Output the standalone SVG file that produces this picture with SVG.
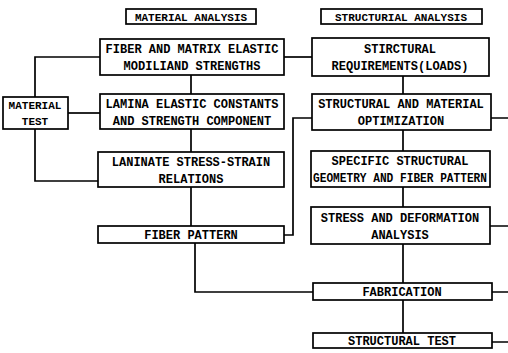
<svg xmlns="http://www.w3.org/2000/svg" width="508" height="353" viewBox="0 0 508 353">
<style>
rect{fill:#fff;stroke:#000;stroke-width:1.7}
text{font-family:"Liberation Mono","DejaVu Sans Mono",monospace;font-weight:bold;font-size:12px;fill:#000;text-anchor:middle}
.h{font-size:11px}
.c path{fill:none;stroke:#000;stroke-width:1.7}
</style>
<rect width="508" height="353" style="stroke:none"/>
<g id="hdr-material"><rect x="126" y="9" width="130" height="15"/><text class="h" x="191" y="20.5">MATERIAL ANALYSIS</text></g>
<g id="hdr-structural"><rect x="321" y="9" width="161" height="15"/><text class="h" x="401" y="20.5">STRUCTURIAL ANALYSIS</text></g>
<g class="c" id="connectors">
<path d="M191 75V94M191 129V152M191 187V226"/>
<path d="M195 243V292H313"/>
<path d="M35 97V57H100"/>
<path d="M68 113H100"/>
<path d="M35 129V181H98"/>
<path d="M284 57H312"/>
<path d="M284 235H293V118H312"/>
<path d="M403 76V94M403 130V151M403 187V207M403 244V283M403 300V333"/>
<path d="M491 118H508M490 226H508M492 292H508M492 342H508"/>
</g>
<g id="n1"><rect x="100" y="39" width="184" height="36"/><text x="192" y="52.5">FIBER AND MATRIX ELASTIC</text><text x="192" y="69.5">MODILIAND STRENGTHS</text></g>
<g id="n2"><rect x="312" y="38" width="177" height="38"/><text x="400" y="52.5">STIRCTURAL</text><text x="400" y="69.5">REQUIREMENTS(LOADS)</text></g>
<g id="mt"><rect x="3" y="97" width="65" height="32"/><text class="h" x="35" y="109">MATERIAL</text><text class="h" x="35" y="125">TEST</text></g>
<g id="n3"><rect x="100" y="94" width="184" height="35"/><text x="192" y="107.5">LAMINA ELASTIC CONSTANTS</text><text x="192" y="124.5">AND STRENGTH COMPONENT</text></g>
<g id="n4"><rect x="312" y="94" width="179" height="36"/><text x="401" y="107.5">STRUCTURAL AND MATERIAL</text><text x="401" y="124.5">OPTIMIZATION</text></g>
<g id="n5"><rect x="98" y="152" width="186" height="35"/><text x="191" y="165.5">LANINATE STRESS-STRAIN</text><text x="191" y="182.5">RELATIONS</text></g>
<g id="n6"><rect x="311" y="151" width="179" height="36"/><text x="400" y="164.5">SPECIFIC STRUCTURAL</text><text x="400" y="181.5" textLength="174" lengthAdjust="spacingAndGlyphs">GEOMETRY AND FIBER PATTERN</text></g>
<g id="n7"><rect x="98" y="226" width="186" height="17"/><text x="191" y="238.5">FIBER PATTERN</text></g>
<g id="n8"><rect x="311" y="207" width="179" height="37"/><text x="400" y="221.5">STRESS AND DEFORMATION</text><text x="400" y="238.5">ANALYSIS</text></g>
<g id="n9"><rect x="313" y="283" width="179" height="17"/><text x="402" y="295.5">FABRICATION</text></g>
<g id="n10"><rect x="313" y="333" width="179" height="15"/><text x="402" y="344.5">STRUCTURAL TEST</text></g>
</svg>
